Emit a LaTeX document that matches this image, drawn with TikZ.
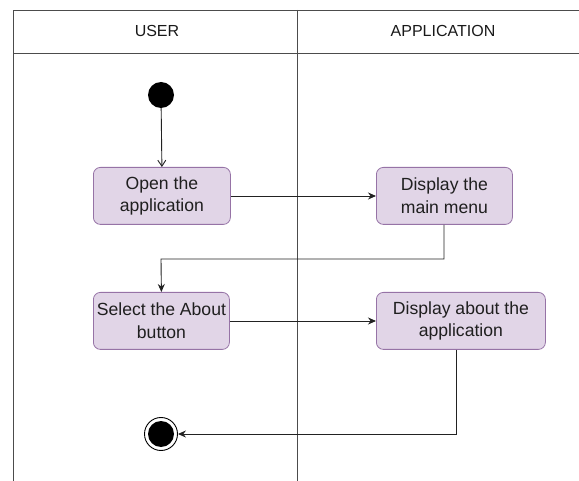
\documentclass[tikz,border=0pt]{standalone}
\usepackage{fontspec}
\setmainfont{Liberation Sans}
\usetikzlibrary{arrows.meta}
\definecolor{boxfill}{HTML}{E1D5E7}
\definecolor{boxdraw}{HTML}{9673A6}
\definecolor{linec}{HTML}{222222}
\begin{document}
\begin{tikzpicture}[x=1pt,y=-1pt,
  act/.style={draw=boxdraw, fill=boxfill, rounded corners=7pt, line width=0.8pt,
    font=\fontsize{17.6}{22.5}\selectfont, align=center, inner sep=0pt, anchor=north west, text=black!88},
  flow/.style={draw=linec, line width=0.9pt, -{Stealth[length=8pt,width=7pt]}},
  lane/.style={draw=black!70, line width=0.9pt},
  hdr/.style={font=\fontsize{16}{19}\selectfont, text=black!90}]
\useasboundingbox (0,0) rectangle (579,481);
% swimlanes
\draw[lane] (579,10) -- (13,10) -- (13,481);
\draw[lane] (13,53) -- (579,53);
\draw[lane] (297,10) -- (297,481);
\node[hdr] (huser) at (157,31) {USER};
\node[hdr] (happ) at (443,31) {APPLICATION};
% start
\node[circle, fill=black, minimum size=26pt, inner sep=0pt] (start) at (161,95) {};
% activities
\node[act, minimum width=137pt, minimum height=57pt] (open) at (93,167) {Open the\\application};
\node[act, minimum width=136pt, minimum height=57pt] (menu) at (376,167) {Display the\\main menu};
\node[act, minimum width=136pt, minimum height=57pt] (sel) at (93,292) {Select the About\\button};
\node[act, minimum width=169pt, minimum height=57pt] (about) at (376,292) {Display about the\\application};
% end
\node[circle, draw=black, line width=0.9pt, fill=white, minimum size=33pt, inner sep=0pt] (end) at (161,434) {};
\node[circle, fill=black, minimum size=26pt, inner sep=0pt] (endin) at (161,434) {};
% connectors
\draw[draw=linec, line width=0.9pt, -{Straight Barb[length=6pt,width=8pt]}] (start) -- (open.north);
\draw[flow] (open.east |- 0,196) -- (menu.west |- 0,196);
\coordinate (m1) at (444,259);
\draw[flow] (menu.south -| m1) -- (m1) -- (161,259) -- (sel.north);
\draw[flow] (sel.east |- 0,321) -- (about.west |- 0,321);
\coordinate (a1) at (456,434);
\draw[flow] (about.south -| a1) -- (a1) -- (end.east);
\end{tikzpicture}
\end{document}
